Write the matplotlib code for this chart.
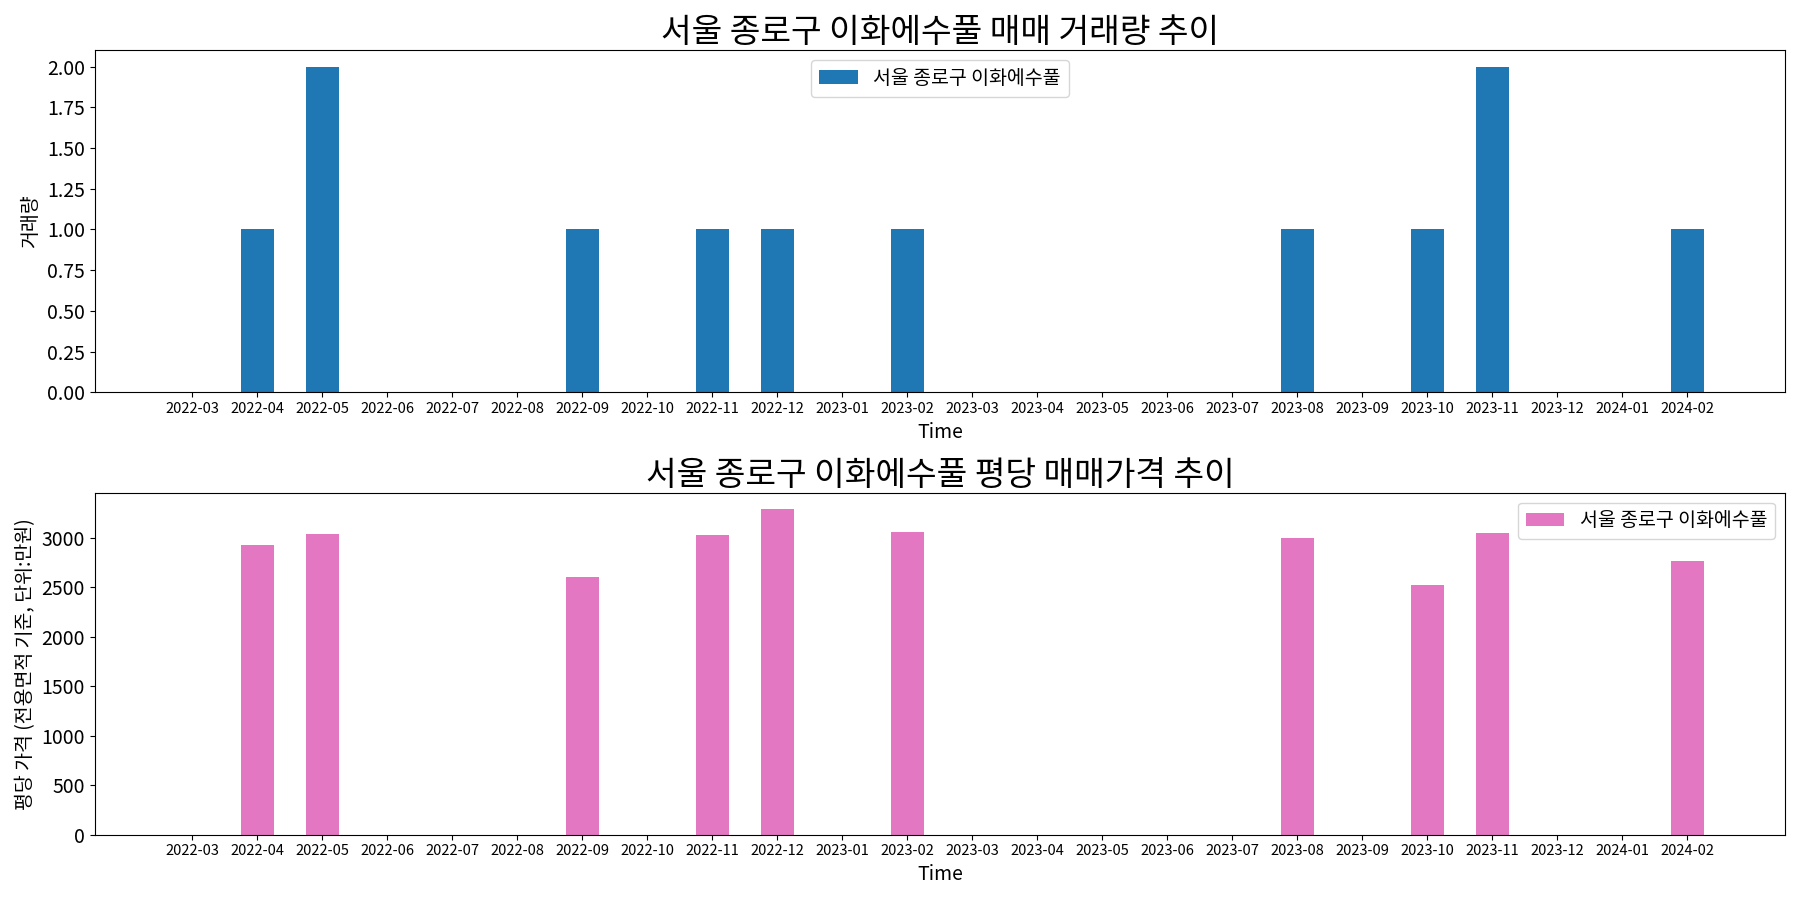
import matplotlib
matplotlib.use("Agg")
import matplotlib.pyplot as plt

plt.rcParams["font.family"] = ["Noto Sans CJK KR", "Noto Sans CJK JP",
                               "Noto Sans CJK SC", "DejaVu Sans"]
plt.rcParams["axes.unicode_minus"] = False

MONTHS = ["2022-03", "2022-04", "2022-05", "2022-06", "2022-07", "2022-08",
          "2022-09", "2022-10", "2022-11", "2022-12", "2023-01", "2023-02",
          "2023-03", "2023-04", "2023-05", "2023-06", "2023-07", "2023-08",
          "2023-09", "2023-10", "2023-11", "2023-12", "2024-01", "2024-02"]
VOLUME = [0, 1, 2, 0, 0, 0, 1, 0, 1, 1, 0, 1,
          0, 0, 0, 0, 0, 1, 0, 1, 2, 0, 0, 1]
PRICE = [0, 2930, 3040, 0, 0, 0, 2600, 0, 3030, 3290, 0, 3060,
         0, 0, 0, 0, 0, 3000, 0, 2520, 3050, 0, 0, 2770]
NAME = "서울 종로구 이화에수풀"

fig, (ax1, ax2) = plt.subplots(2, 1, figsize=(18, 9), dpi=100)
x = range(len(MONTHS))

ax1.bar(x, VOLUME, width=0.5, color="#1f77b4", label=NAME)
ax1.set_title(f"{NAME} 매매 거래량 추이", fontsize=24)
ax1.set_ylabel("거래량", fontsize=14)
ax1.legend(loc="upper center", fontsize=14)

ax2.bar(x, PRICE, width=0.5, color="#e377c2", label=NAME)
ax2.set_title(f"{NAME} 평당 매매가격 추이", fontsize=24)
ax2.set_ylabel("평당 가격 (전용면적 기준, 단위:만원)", fontsize=14)
ax2.legend(loc="upper right", fontsize=14)

for ax in (ax1, ax2):
    ax.set_xticks(list(x))
    ax.set_xticklabels(MONTHS, fontsize=10.5)
    ax.set_xlabel("Time", fontsize=14)
    ax.tick_params(axis="y", labelsize=14)
    ax.set_xlim(-1.5, 24.5)
ax1.set_yticks([i * 0.25 for i in range(9)])
ax1.set_yticklabels([f"{i * 0.25:.2f}" for i in range(9)])

fig.tight_layout()
fig.savefig("out.png")
